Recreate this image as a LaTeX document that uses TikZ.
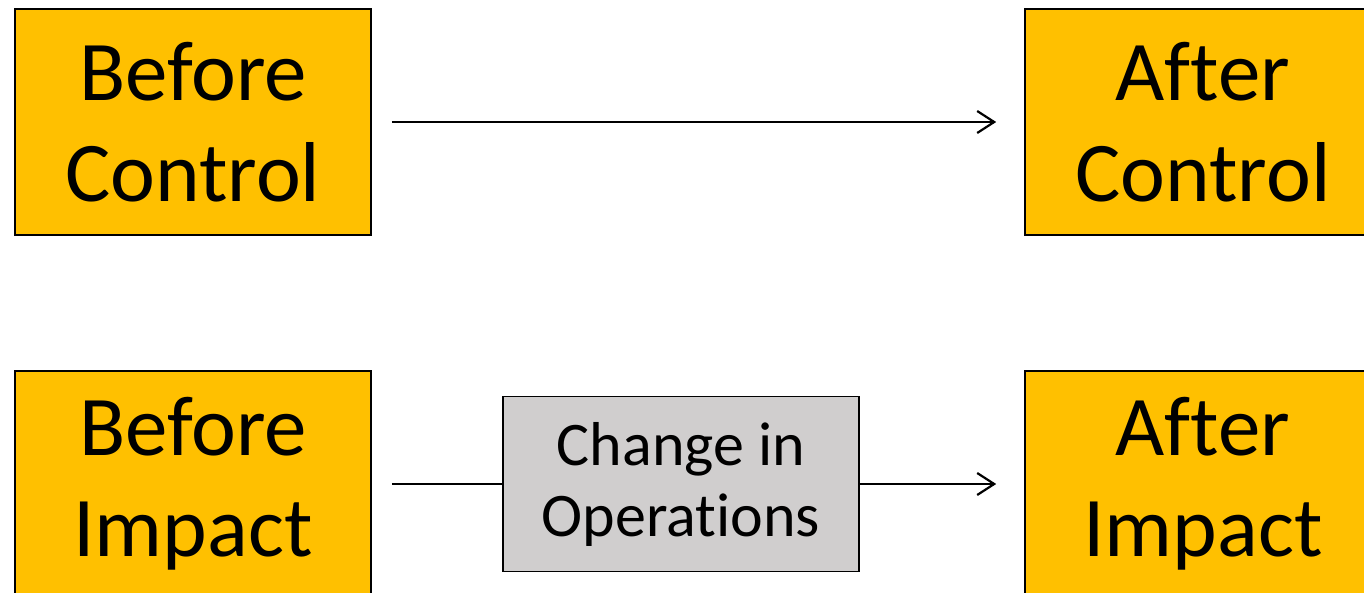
\documentclass[tikz,border=0pt]{standalone}
\usepackage{fontspec}
\setmainfont[Ligatures={NoCommon}]{Carlito}
\usetikzlibrary{arrows.meta}
\definecolor{boxorange}{HTML}{FFC000}
\definecolor{boxgray}{HTML}{D0CECE}
\tikzset{
  bigbox/.style={draw=black, line width=1.6pt, fill=boxorange, minimum width=356pt, minimum height=226pt, inner sep=0pt, align=center, font=\fontsize{85}{101}\selectfont},
  graybox/.style={draw=black, line width=1.6pt, fill=boxgray, minimum width=356pt, minimum height=175pt, inner sep=0pt, align=center, font=\fontsize{62}{71}\selectfont},
  conn/.style={line width=2pt, draw=black},
  arr/.style={conn, -{Straight Barb[length=17pt,width=22pt,line width=2.2pt]}}
}
\begin{document}
\begin{tikzpicture}[x=1pt,y=-1pt]
\useasboundingbox (0,0) rectangle (1364,593);
\clip (0,0) rectangle (1364,593);
\node[bigbox] (bc) at (193,122) {Before\\Control};
\node[bigbox] (ac) at (1203,122) {After\\Control};
\node[bigbox] (bi) at (193,484) {Before\\Impact};
\node[bigbox] (ai) at (1203,484) {After\\Impact};
\node[graybox] (co) at (681,484) {Change in\\Operations};
\draw[arr, shorten <=20pt, shorten >=28pt] (bc.east) -- (ac.west);
\draw[conn, shorten <=20pt] (bi.east) -- (co.west);
\draw[arr, shorten >=28pt] (co.east) -- (ai.west);
\end{tikzpicture}
\end{document}
